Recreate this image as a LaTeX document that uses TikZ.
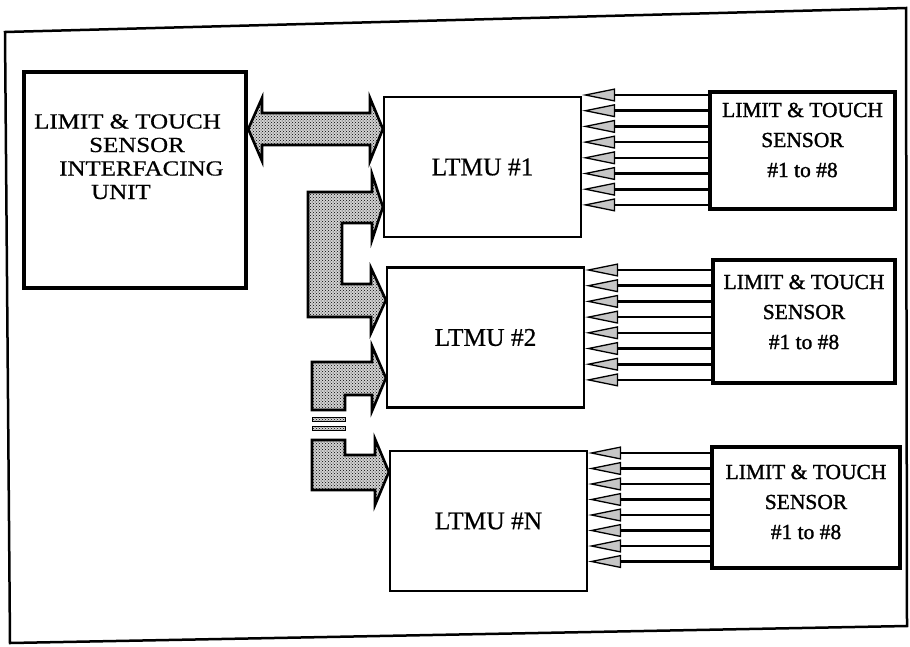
\documentclass[tikz,border=0pt]{standalone}
\usepackage{fontspec}
\setmainfont{Liberation Serif}
\newfontfamily\scanfont{Liberation Serif}[FakeBold=0.6]
\newfontfamily\scanbold{Liberation Serif}[FakeBold=1.4]
\usetikzlibrary{arrows.meta,patterns}
\newcommand{\stretchtxt}[1]{\scalebox{1.16}[1]{#1}}
\begin{document}
\begin{tikzpicture}[x=1pt,y=-1pt,
  thickbox/.style={draw,line width=4.5pt,inner sep=0pt},
  unitbox/.style={draw,line width=2.2pt,inner sep=0pt,minimum width=197pt,minimum height=140pt,font=\scanfont\fontsize{25.5}{30}\selectfont},
  sensorbox/.style={draw,line width=4.8pt,inner sep=0pt},
  sensortext/.style={align=center,inner sep=0pt,font=\scanbold\fontsize{21.5}{30}\selectfont},
  busfill/.style={preaction={fill=gray!35},pattern=crosshatch dots},
  bus/.style={busfill,draw,line width=2.6pt,line join=miter},
  sig/.style={line width=2.6pt,-{Triangle[length=33pt,width=13pt,fill=gray!45,line width=1.3pt]}}]
\path[use as bounding box] (0,0) rectangle (910,646);
% outer frame
\draw[line width=2.5pt] (5,32) -- (906,8) -- (907,626) -- (10,643) -- cycle;
% interfacing unit
\node[thickbox,minimum width=222pt,minimum height=216pt] (IF) at (135,180) {};
\node[anchor=north west,align=left,inner sep=0pt,font=\scanfont\fontsize{21.5}{23.5}\selectfont] (IFtxt) at (34,114)
  {\stretchtxt{LIMIT \& TOUCH}\\\hspace*{55pt}\stretchtxt{SENSOR}\\\hspace*{25pt}\stretchtxt{INTERFACING}\\\hspace*{57pt}\stretchtxt{UNIT}};
% LTMU units
\node[unitbox] (L1) at (482.5,167) {LTMU \#1};
\node[unitbox] (L2) at (485.5,337.5) {LTMU \#2};
\node[unitbox] (LN) at (488.5,521) {LTMU \#N};
% sensor boxes
\node[sensorbox,minimum width=185pt,minimum height=117pt] (S1) at (802.5,150.5) {};
\node[sensortext] (S1t) at (802.5,140) {LIMIT \& TOUCH\\SENSOR\\\#1 to \#8};
\node[sensorbox,minimum width=182pt,minimum height=123pt] (S2) at (804,321.5) {};
\node[sensortext] (S2t) at (804,312) {LIMIT \& TOUCH\\SENSOR\\\#1 to \#8};
\node[sensorbox,minimum width=188pt,minimum height=121pt] (S3) at (806,507.5) {};
\node[sensortext] (S3t) at (806,502) {LIMIT \& TOUCH\\SENSOR\\\#1 to \#8};
% sensor lines
\foreach \k [evaluate=\k as \ya using 95+15.7*\k,
             evaluate=\k as \yb using 270+15.7*\k,
             evaluate=\k as \yc using 453+15.5*\k] in {0,...,7} {
  \draw[sig] (S1.west |- 700,\ya) -- (L1.east |- 700,\ya);
  \draw[sig] (S2.west |- 700,\yb) -- (L2.east |- 700,\yb);
  \draw[sig] (S3.west |- 700,\yc) -- (LN.east |- 700,\yc);
}
% double bus arrow
\draw[bus] (IF.east |- 0,129) -- (262,98) -- (262,113) -- (370,113) -- (370,98)
  -- (L1.west |- 0,129) -- (370,161) -- (370,145) -- (262,145) -- (262,161) -- cycle;
% bracket bus L1 - L2
\draw[bus] (308,192) -- (372,192) -- (372,174) -- (L1.west |- 0,207) -- (372,240) -- (372,223)
  -- (342,223) -- (342,284) -- (371,284) -- (371,268) -- (L2.west |- 0,300) -- (371,333)
  -- (371,317) -- (308,317) -- cycle;
% bus to L2 going down
\draw[bus] (312,410) -- (312,362) -- (372,362) -- (372,346) -- (L2.west |- 0,378) -- (372,411)
  -- (372,395) -- (345,395) -- (345,410) -- cycle;
\path[busfill,draw,line width=0.8pt] (312,417) rectangle (345,421);
\path[busfill,draw,line width=0.8pt] (312,426) rectangle (345,430);
% bus to LN
\draw[bus] (312,440) -- (345,440) -- (345,455) -- (375,455) -- (375,439) -- (LN.west |- 0,472)
  -- (375,505) -- (375,490) -- (312,490) -- cycle;
\end{tikzpicture}
\end{document}
